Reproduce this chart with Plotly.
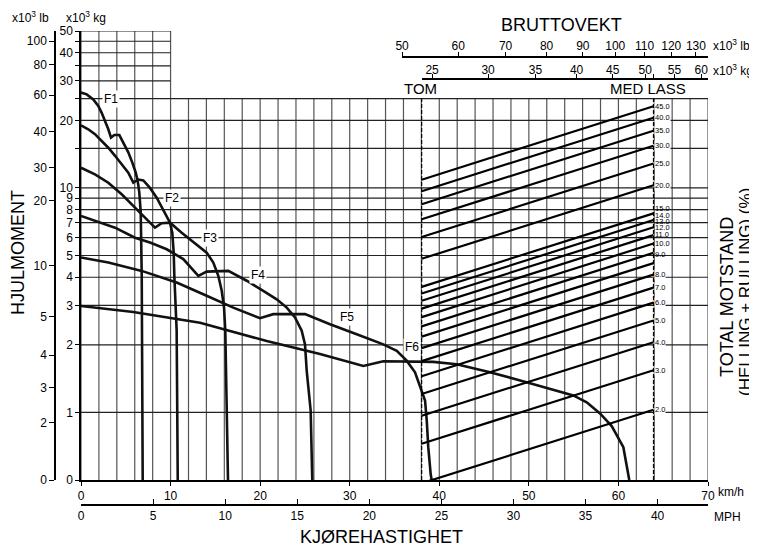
import math
import plotly.graph_objects as go

# ---------------- data ----------------
SPEED_TICKS_KMH = [0, 10, 20, 30, 40, 50, 60, 70]
SPEED_TICKS_MPH = [0, 5, 10, 15, 20, 25, 30, 35, 40]
KMH_PER_MPH = 1.609344
KG_PER_LB = 0.45359237

# rimpull axis (x10^3 kg); the "0" tick sits at the bottom of the log scale
KG_TICK_VALUES = [0.5, 1, 2, 3, 4, 5, 6, 7, 8, 9, 10, 15, 20, 25, 30, 35, 40, 45, 50]
KG_TICK_TEXT = ['0', '1', '2', '3', '4', '5', '6', '7', '8', '9', '10', '', '20', '', '30', '', '40', '', '50']
# lb scale as printed beside the kg scale (value on the kg scale where each lb tick is printed)
LB_TICK_TEXT = ['0', '2', '3', '4', '5', '10', '20', '30', '40', '60', '80', '100']
LB_TICK_AT_KG = [0.5, 0.90, 1.29, 1.80, 2.67, 4.49, 8.75, 12.3, 17.8, 25.9, 35.3, 45.1]

GRID_FULL = [1, 2, 3, 4, 5, 6, 7, 8, 9, 10, 15, 20, 25]
GRID_TOP_LEFT = [30, 35, 40, 45, 50]

GROSS_LB_TICKS = [50, 60, 70, 80, 90, 100, 110, 120, 130]
GROSS_KG_TICKS = [25, 30, 35, 40, 45, 50, 55, 60]
EMPTY_WEIGHT = 24.17    # x10^3 kg  (TOM)
LOADED_WEIGHT = 51.37   # x10^3 kg  (MED LASS)
RESISTANCE_PCT = [2, 3, 4, 5, 6, 7, 8, 9, 10, 11, 12, 13, 14, 15, 20, 25, 30, 35, 40, 45]

GEARS = ['F1', 'F2', 'F3', 'F4', 'F5', 'F6']
F1_SPEED = [0, 0.64, 1.37, 1.93, 2.31, 2.68, 3.05, 3.35, 3.72, 4.28, 4.72, 5.28, 5.73, 6.11, 6.33, 6.51, 6.67, 6.73, 6.78, 6.89]
F1_RIMPULL = [26.6, 26.1, 24.8, 23.2, 21.6, 19.9, 18.25, 16.75, 17.2, 17.2, 15.9, 14.4, 12.96, 11.7, 10.75, 9.53, 7.76, 6.11, 4.06, 0.5]
F2_SPEED = [0, 0.81, 1.56, 2.31, 3.05, 3.80, 4.54, 5.28, 5.84, 6.40, 6.96, 7.70, 8.45, 9.08, 9.57, 9.94, 10.19, 10.35, 10.42, 10.68, 10.80]
F2_RIMPULL = [19.0, 18.25, 17.35, 16.2, 15.1, 13.9, 12.75, 11.7, 10.55, 10.9, 10.8, 10.0, 9.05, 8.17, 7.5, 7.0, 6.32, 5.15, 4.06, 2.31, 0.5]
F3_SPEED = [0, 1.56, 3.05, 4.54, 6.03, 7.15, 8.26, 9.01, 9.94, 11.24, 12.73, 14.03, 14.77, 15.33, 15.71, 15.97, 16.11, 16.19, 16.41]
F3_RIMPULL = [12.3, 11.5, 10.55, 9.37, 8.17, 7.38, 6.65, 6.96, 7.0, 6.32, 5.66, 5.15, 4.65, 4.06, 3.48, 2.93, 2.31, 1.53, 0.5]
F4_SPEED = [0, 1.56, 3.80, 6.03, 7.70, 9.57, 11.42, 13.10, 14.03, 16.45, 18.50, 20.35, 21.85, 22.97, 23.89, 24.64, 25.01, 25.20, 25.64, 25.82]
F4_RIMPULL = [7.5, 7.13, 6.65, 6.0, 5.71, 5.33, 4.82, 4.06, 4.24, 4.27, 3.86, 3.48, 3.19, 2.93, 2.65, 2.31, 2.01, 1.53, 1.02, 0.5]
F5_SPEED = [0, 3.05, 6.78, 10.68, 13.65, 17.0, 19.98, 21.47, 25.01, 27.80, 30.78, 33.75, 35.25, 36.36, 37.29, 38.04, 38.41, 38.60, 38.77, 39.04, 39.15]
F5_RIMPULL = [4.9, 4.65, 4.27, 3.79, 3.36, 2.93, 2.63, 2.74, 2.74, 2.47, 2.23, 2.01, 1.88, 1.70, 1.51, 1.23, 1.13, 0.92, 0.70, 0.53, 0.5]
F6_SPEED = [0, 5.84, 13.29, 20.73, 26.68, 31.52, 33.75, 39.33, 41.94, 45.66, 50.13, 54.96, 56.46, 57.94, 59.25, 60.55, 61.21]
F6_RIMPULL = [2.98, 2.80, 2.51, 2.08, 1.82, 1.61, 1.69, 1.68, 1.64, 1.51, 1.35, 1.19, 1.11, 0.99, 0.87, 0.70, 0.5]
GEAR_SPEEDS = [F1_SPEED, F2_SPEED, F3_SPEED, F4_SPEED, F5_SPEED, F6_SPEED]
GEAR_RIMPULLS = [F1_RIMPULL, F2_RIMPULL, F3_RIMPULL, F4_RIMPULL, F5_RIMPULL, F6_RIMPULL]

# ---------------- layout geometry ----------------
# the page body has an 8px margin, so the figure is drawn 8px in from the window corner
OFF = 8
W, H = 757 - OFF, 549 - OFF
ML, MR, MT, MB = 32, 49, 23, 30
PW, PH = W - ML - MR, H - MT - MB


def px(x):   # window pixel -> paper x
    return (x - OFF - ML) / PW


def py(y):   # window pixel -> paper y
    return (H - MB - (y - OFF)) / PH


XD0 = px(81)
YD0 = py(480)
X2_RANGE = [0.9021, 1.7877]   # log10 of gross weight (x10^3 kg) across the speed frame


def x2_paper(kg):
    f = (math.log10(kg) - X2_RANGE[0]) / (X2_RANGE[1] - X2_RANGE[0])
    return XD0 + f * (1 - XD0)


FONT = 'Liberation Sans, Arial, Helvetica, sans-serif'

fig = go.Figure()

# grid: vertical lines (every 2 km/h) and horizontal lines
vx, vy = [], []
for s in range(0, 71, 2):
    top = GRID_TOP_LEFT[-1] if s <= 10 else GRID_FULL[-1]
    vx += [s, s, None]
    vy += [0.5, top, None]
fig.add_trace(go.Scatter(x=vx, y=vy, mode='lines', line=dict(color='#555555', width=1.2),
                         hoverinfo='skip', showlegend=False))
hx, hy = [], []
for v in GRID_FULL:
    hx += [0, 70, None]
    hy += [v, v, None]
for v in GRID_TOP_LEFT:
    hx += [0, 10, None]
    hy += [v, v, None]
fig.add_trace(go.Scatter(x=hx, y=hy, mode='lines', line=dict(color='#222222', width=1.2),
                         hoverinfo='skip', showlegend=False))

# gradeability lines
for p in RESISTANCE_PCT:
    fig.add_trace(go.Scatter(x=[EMPTY_WEIGHT, LOADED_WEIGHT],
                             y=[EMPTY_WEIGHT * p / 100, LOADED_WEIGHT * p / 100],
                             xaxis='x2', yaxis='y', mode='lines',
                             line=dict(color='black', width=2.2),
                             hoverinfo='skip', showlegend=False))

# empty / loaded markers
for wgt in [EMPTY_WEIGHT, LOADED_WEIGHT]:
    fig.add_trace(go.Scatter(x=[wgt, wgt], y=[0.5, GRID_FULL[-1]], xaxis='x2', yaxis='y', mode='lines',
                             line=dict(color='black', width=1.2, dash='4px,2px'),
                             hoverinfo='skip', showlegend=False))

# rimpull curves
for name, sp, rp in zip(GEARS, GEAR_SPEEDS, GEAR_RIMPULLS):
    fig.add_trace(go.Scatter(x=sp, y=rp, mode='lines', name=name,
                             line=dict(color='#111', width=2.6),
                             hoverinfo='skip', showlegend=False))

# dummy traces so extra axes get drawn
fig.add_trace(go.Scatter(x=[None], y=[None], xaxis='x', yaxis='y2', showlegend=False))
fig.add_trace(go.Scatter(x=[None], y=[None], xaxis='x3', yaxis='y', showlegend=False))
fig.add_trace(go.Scatter(x=[None], y=[None], xaxis='x4', yaxis='y', showlegend=False))
fig.add_trace(go.Scatter(x=[None], y=[None], xaxis='x5', yaxis='y', showlegend=False))

axfont = dict(family=FONT, size=12, color='black')
common = dict(showgrid=False, zeroline=False, showline=True, linecolor='black', linewidth=1.5,
              tickcolor='black', tickwidth=1.2, tickfont=axfont)

ylog_range = [math.log10(0.5), math.log10(50)]
top_end_kg = 10 ** X2_RANGE[1]

fig.update_layout(
    width=W, height=H,
    margin=dict(l=ML, r=MR, t=MT, b=MB, pad=0),
    paper_bgcolor='white', plot_bgcolor='rgba(0,0,0,0)',
    font=dict(family=FONT, color='black'),
    xaxis=dict(domain=[XD0, 1], range=[0, 70], anchor='y', ticks='outside', ticklen=4,
               tickvals=SPEED_TICKS_KMH, ticktext=[str(v) for v in SPEED_TICKS_KMH], **common),
    xaxis2=dict(domain=[XD0, 1], overlaying='x', type='log', range=X2_RANGE, anchor='y', visible=False),
    xaxis3=dict(domain=[XD0, 1], overlaying='x', range=[0, 70 / KMH_PER_MPH], anchor='free', position=py(505),
                side='bottom', ticks='inside', ticklen=5,
                tickvals=SPEED_TICKS_MPH, ticktext=[str(v) for v in SPEED_TICKS_MPH], **common),
    xaxis4=dict(domain=[x2_paper(GROSS_LB_TICKS[0] * KG_PER_LB), 1], type='log',
                range=[math.log10(GROSS_LB_TICKS[0]), math.log10(top_end_kg / KG_PER_LB)],
                anchor='free', position=py(57), side='top', ticks='outside', ticklen=4,
                ticklabelstandoff=-3,
                tickvals=GROSS_LB_TICKS, ticktext=[str(v) for v in GROSS_LB_TICKS], **common),
    xaxis5=dict(domain=[x2_paper(EMPTY_WEIGHT), 1], type='log',
                range=[math.log10(EMPTY_WEIGHT), X2_RANGE[1]],
                anchor='free', position=py(79), side='top', ticks='outside', ticklen=4,
                ticklabelstandoff=-5,
                tickvals=GROSS_KG_TICKS + [LOADED_WEIGHT],
                ticktext=[str(v) for v in GROSS_KG_TICKS] + [''], **common),
    yaxis=dict(domain=[YD0, 1], type='log', range=ylog_range, anchor='x', ticks='outside', ticklen=4,
               tickvals=KG_TICK_VALUES, ticktext=KG_TICK_TEXT, **common),
    yaxis2=dict(domain=[YD0, 1], overlaying='y', type='log', range=ylog_range, anchor='free',
                position=px(55), side='left', ticks='outside', ticklen=5,
                tickvals=LB_TICK_AT_KG, ticktext=LB_TICK_TEXT, **common),
    showlegend=False,
)

ann = []


def txt(x, y, text, size, xanchor='center', yanchor='middle', angle=0):
    ann.append(dict(x=px(x), y=py(y), xref='paper', yref='paper', text=text, showarrow=False,
                    xanchor=xanchor, yanchor=yanchor, textangle=angle,
                    font=dict(family=FONT, size=size, color='black')))


txt(30, 17, 'x10<sup>3</sup> lb', 12)
txt(86, 17, 'x10<sup>3</sup> kg', 12)
txt(18, 253, 'HJULMOMENT', 18, angle=-90)
txt(381, 537, 'KJØREHASTIGHET', 18)
txt(561, 25, 'BRUTTOVEKT', 18)
txt(402, 88, 'TOM', 15, xanchor='left')
txt(608, 88, 'MED LASS', 15, xanchor='left')
txt(727, 297, 'TOTAL MOTSTAND', 18, angle=-90)
txt(745, 292, '(HELLING + RULLING) (%)', 17, angle=-90)
txt(716, 492, 'km/h', 12, xanchor='left')
txt(712, 517, 'MPH', 12, xanchor='left')
txt(711, 45, 'x10<sup>3</sup> lb', 12, xanchor='left')
txt(711, 70, 'x10<sup>3</sup> kg', 12, xanchor='left')

# gear labels
GEAR_LABEL_AT = [(3.4, 25), (10.2, 9), (14.4, 6), (19.8, 4.1), (29.7, 2.67), (36.9, 1.95)]
for name, (sx, ky) in zip(GEARS, GEAR_LABEL_AT):
    ann.append(dict(x=sx, y=math.log10(ky), xref='x', yref='y', text=name, showarrow=False,
                    bgcolor='white', borderpad=1,
                    font=dict(family=FONT, size=12, color='black')))

# resistance labels at the loaded end of each line (crowded ones lifted, as printed)
LABEL_LIFT = {15: 5, 14: 5, 13: 6, 12: 8, 11: 9, 10: 9, 9: 9}
for p in RESISTANCE_PCT:
    crowded = p in LABEL_LIFT
    ann.append(dict(x=math.log10(LOADED_WEIGHT), y=math.log10(LOADED_WEIGHT * p / 100),
                    xref='x2', yref='y', text=f'{p:.1f}', showarrow=False,
                    xanchor='left', xshift=1, yshift=LABEL_LIFT.get(p, 0),
                    bgcolor='rgba(255,255,255,0)' if crowded else 'white', borderpad=0,
                    font=dict(family=FONT, size=7.5, color='black')))

fig.update_layout(annotations=ann)
fig.write_html('out.html')
